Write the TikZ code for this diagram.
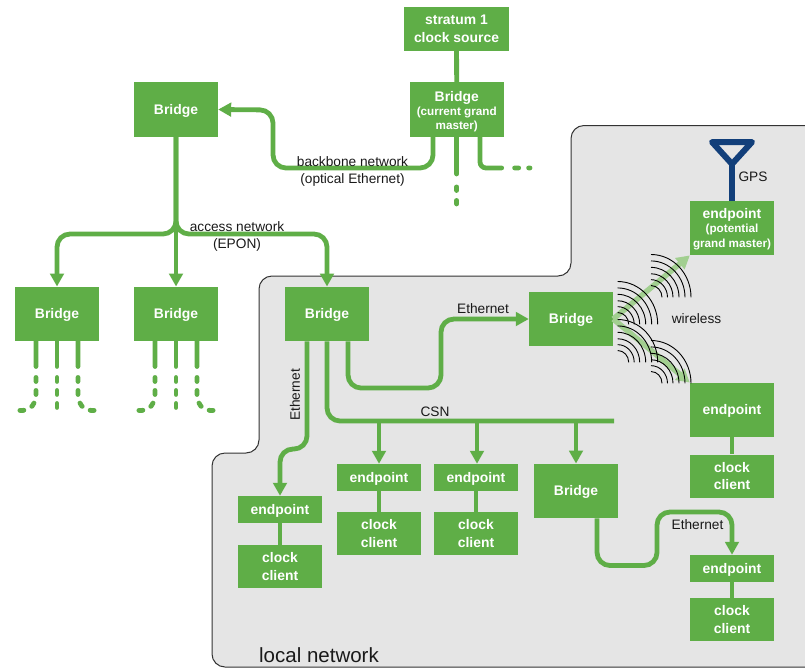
\documentclass[tikz,border=0pt]{standalone}
\usepackage{fontspec}
\setmainfont{Liberation Sans}
\usetikzlibrary{arrows.meta}
\definecolor{grn}{HTML}{5FAE47}
\definecolor{lgrn}{HTML}{A2CF90}
\definecolor{bggray}{HTML}{E5E5E5}
\definecolor{navy}{HTML}{123F7A}
\definecolor{edgeline}{HTML}{333333}
\newcommand{\smalltxt}{\fontsize{11.7}{14}\selectfont}
\newcommand{\wavearcs}[2]{%
  \foreach \r in {40,34,28,22,16.5,11}{%
    \draw[wave] ({#1},{#2-1.07*\r}) .. controls ({#1+0.5523*\r},{#2-1.07*\r}) and ({#1+\r},{#2-0.591*\r}) .. ({#1+\r},{#2});
  }}
\tikzset{
  x=1pt,y=-1pt,
  box/.style={fill=grn,text=white,inner sep=0pt,minimum width=84pt,align=center,
    font=\fontsize{13.9}{17.5}\selectfont\bfseries},
  brbox/.style={box,minimum height=54.5pt},
  single/.style={text depth=0.8pt},
  epbox/.style={box,single,minimum height=27pt},
  clbox/.style={box,minimum height=43pt},
  lbl/.style={inner sep=0pt,align=center,text=black!90,font=\fontsize{13.7}{17}\selectfont},
  wire/.style={draw=grn,line width=4.8pt,rounded corners=13pt},
  tip/.style={-{Triangle[width=13.5pt,length=13pt]}},
  stubwire/.style={draw=grn,line width=4.8pt,line cap=round},
  radio/.style={draw=lgrn,line width=5.5pt,-{Triangle[width=14pt,length=13pt]}},
  wave/.style={draw=black,line width=0.9pt},
  mast/.style={draw=navy,line width=6pt,line join=round}
}
\begin{document}
\begin{tikzpicture}
\useasboundingbox (0,0) rectangle (805,667);
\clip (0,0) rectangle (805,667);
% local network area
\draw[fill=bggray,draw=edgeline,line width=1pt,rounded corners=13pt]
  (830,125.5) -- (571,125.5) -- (571,276) -- (259,276) -- (259,453) -- (212,453) -- (212,667) -- (830,667);
% nodes
\node[box,minimum width=105pt,minimum height=44pt] (src) at (456.5,29) {stratum 1\\clock source};
\node[brbox,minimum width=94.5pt] (gm) at (456.75,109.5) {\rule{0pt}{15pt}Bridge\\[-4pt]\smalltxt (current grand\\[-3pt]\smalltxt master)};
\node[brbox,single] (tb) at (176,109.5) {Bridge};
\node[brbox,single] (lb1) at (57,314) {Bridge};
\node[brbox,single] (lb2) at (176,314) {Bridge};
\node[brbox,single] (lb3) at (327,314) {Bridge};
\node[brbox,single] (mb) at (571,319) {Bridge};
\node[brbox] (pep) at (732,228) {\rule{0pt}{12pt}endpoint\\[-3pt]\smalltxt (potential\\[-3pt]\smalltxt grand master)};
\node[brbox,single] (rep) at (732,410) {endpoint};
\node[clbox] (rcl) at (732,476) {clock\\client};
\node[epbox] (ep1) at (280,509.5) {endpoint};
\node[clbox] (cl1) at (280,566.5) {clock\\client};
\node[epbox] (ep2) at (379,477.5) {endpoint};
\node[clbox] (cl2) at (379,533.5) {clock\\client};
\node[epbox] (ep3) at (476,477.5) {endpoint};
\node[clbox] (cl3) at (476,533.5) {clock\\client};
\node[brbox,single] (bb) at (576,491) {Bridge};
\node[epbox] (ep4) at (732,568.5) {endpoint};
\node[clbox] (cl4) at (732,619.5) {clock\\client};
% free ends
\coordinate (csnend) at (614,421);
\coordinate (csn1) at (379,421);
\coordinate (csn2) at (477,421);
\coordinate (csn3) at (576,421);
\coordinate (anta) at (732,164);
\coordinate (antl) at (712,142);
\coordinate (antr) at (752,142);
% connectors
\draw[wire] (src) -- (gm);
\draw[wire,tip] ([xshift=-23.75pt]gm.south) -- (433,168) -- (273,168) -- (273,110) -- (tb.east);
\draw[wire,tip] (tb.south) -- (lb2.north);
\draw[wire,tip] (tb.south) -- (176,234) -- (57,234) -- (lb1.north);
\draw[wire,tip] (tb.south) -- (176,234) -- (327,234) -- (lb3.north);
\draw[stubwire,dash pattern=on 37pt off 13pt on 3.5pt off 10pt on 3.5pt off 40pt] (gm.south) -- ++(0,68);
\draw[stubwire,rounded corners=6pt,dash pattern=on 50pt off 13pt on 4pt off 10pt on 4pt off 40pt] ([xshift=23.25pt]gm.south) -- ++(0,31) -- ++(50,0);
\foreach \b in {lb1,lb2}{
  \draw[stubwire,dash pattern=on 25pt off 11pt on 4pt off 9pt on 4pt off 9pt on 4pt off 9pt on 4pt off 40pt] ([xshift=-21pt]\b.south) -- ++(0,55) .. controls +(0,7) and +(7,0) .. ++(-13,14) -- ++(-10,0);
  \draw[stubwire,dash pattern=on 25pt off 11pt on 4pt off 9pt on 4pt off 9pt on 4pt off 40pt] (\b.south) -- ++(0,67);
  \draw[stubwire,dash pattern=on 25pt off 11pt on 4pt off 9pt on 4pt off 9pt on 4pt off 9pt on 4pt off 40pt] ([xshift=21pt]\b.south) -- ++(0,55) .. controls +(0,7) and +(-7,0) .. ++(13,14) -- ++(10,0);
}
\draw[wire,tip] ([xshift=-20pt]lb3.south) -- (307,449) -- (280,449) -- (ep1.north);
\draw[wire,tip] ([xshift=21pt]lb3.south) -- (348,388) -- (441,388) -- (441,319) -- (mb.west);
\draw[wire] (lb3.south) -- (327,421) -- (csnend);
\draw[wire,tip] (csn1) -- (ep2.north);
\draw[wire,tip] (csn2) -- (csn2 |- ep3.north);
\draw[wire,tip] (csn3) -- (bb.north);
\draw[wire,tip] ([xshift=21pt]bb.south) -- (597,565.5) -- (657,565.5) -- (657,512) -- (732,512) -- (ep4.north);
\draw[wire] (ep1) -- (cl1);
\draw[wire] (ep2) -- (cl2);
\draw[wire] (ep3) -- (cl3);
\draw[wire] (ep4) -- (cl4);
\draw[wire] (rep) -- (rcl);
% wireless links
\draw[radio] (mb.east) -- (pep.south west);
\draw[radio] (mb.east) -- (rep.north west);
\wavearcs{617.7}{324.3}
\wavearcs{651}{297.3}
\wavearcs{617.7}{362.3}
\wavearcs{651}{383.3}
% antenna
\draw[mast] (antl) -- (antr) -- (anta) -- cycle;
\draw[mast] (anta) -- (pep.north);
% labels
\node[lbl] (l1) at (352.5,171) {backbone network\\(optical Ethernet)};
\node[lbl] (l2) at (237,236) {access network\\(EPON)};
\node[lbl,rotate=90] (l3) at (295,395) {Ethernet};
\node[lbl] (l4) at (483,309) {Ethernet};
\node[lbl] (l5) at (696.5,319) {wireless};
\node[lbl] (l6) at (753,177) {GPS};
\node[lbl] (l7) at (435,412) {CSN};
\node[lbl] (l8) at (697.5,525) {Ethernet};
\node[inner sep=0pt,text=black!90,font=\fontsize{20.5}{24}\selectfont] (l9) at (319,655) {local network};
\end{tikzpicture}
\end{document}
